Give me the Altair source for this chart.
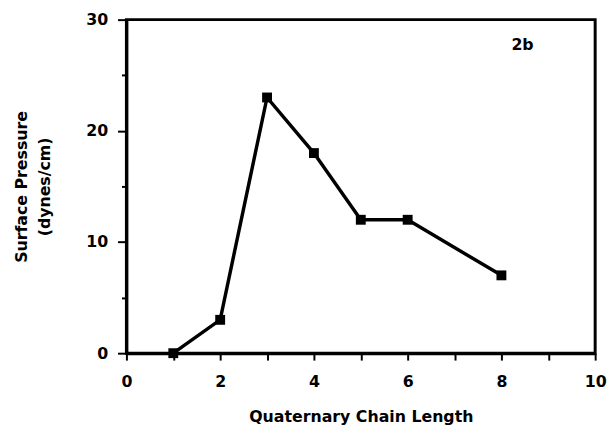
import altair as alt
import pandas as pd

chain_length = [1, 2, 3, 4, 5, 6, 8]
surface_pressure = [0, 3, 23, 18, 12, 12, 7]
x_ticks = list(range(0, 11))
y_ticks = [0, 5, 10, 15, 20, 25, 30]
panel_label = ["2b"]
panel_x = [8.45]
panel_y = [27.7]

df = pd.DataFrame({"x": chain_length, "y": surface_pressure})
lab = pd.DataFrame({"x": panel_x, "y": panel_y, "t": panel_label})

FONT = "DejaVu Sans"

xenc = alt.X("x:Q", scale=alt.Scale(domain=[0, 10], nice=False),
             axis=alt.Axis(values=x_ticks, title="Quaternary Chain Length",
                           labelExpr="datum.value % 2 == 0 ? datum.label : ''",
                           tickSize=7, grid=False))
yenc = alt.Y("y:Q", scale=alt.Scale(domain=[0, 30], nice=False),
             axis=alt.Axis(values=y_ticks, title=["Surface Pressure", "(dynes/cm)"],
                           labelExpr="datum.value % 10 == 0 ? datum.label : ''",
                           tickSize={"condition": {"test": "datum.value % 10 == 0", "value": 9}, "value": 5},
                           grid=False))

line = alt.Chart(df).mark_line(color="black", strokeWidth=3.5).encode(x=xenc, y=yenc)
pts = alt.Chart(df).mark_point(shape="square", filled=True, color="black", size=100, opacity=1).encode(x="x:Q", y="y:Q")
txt = alt.Chart(lab).mark_text(font=FONT, fontWeight="bold", fontSize=16, color="black").encode(
    x="x:Q", y="y:Q", text="t:N")

chart = (line + pts + txt).properties(
    width=475, height=338,
    autosize=alt.AutoSizeParams(type="none"),
    padding={"left": 120, "top": 9, "right": 12, "bottom": 72},
).configure_view(stroke="black", strokeWidth=3).configure_axis(
    domainColor="black", domainWidth=3, tickColor="black", tickWidth=2,
    labelFont=FONT, labelFontWeight="bold", labelFontSize=16, labelColor="black",
    titleFont=FONT, titleFontWeight="bold", titleFontSize=16, titleColor="black",
).configure_axisX(labelPadding=14, titlePadding=19, labelFlush=False).configure_axisY(
    labelPadding=10, titlePadding=34, labelFlush=False, titleLineHeight=23)

chart.save("out.html", embed_options={"renderer": "svg", "actions": False})
